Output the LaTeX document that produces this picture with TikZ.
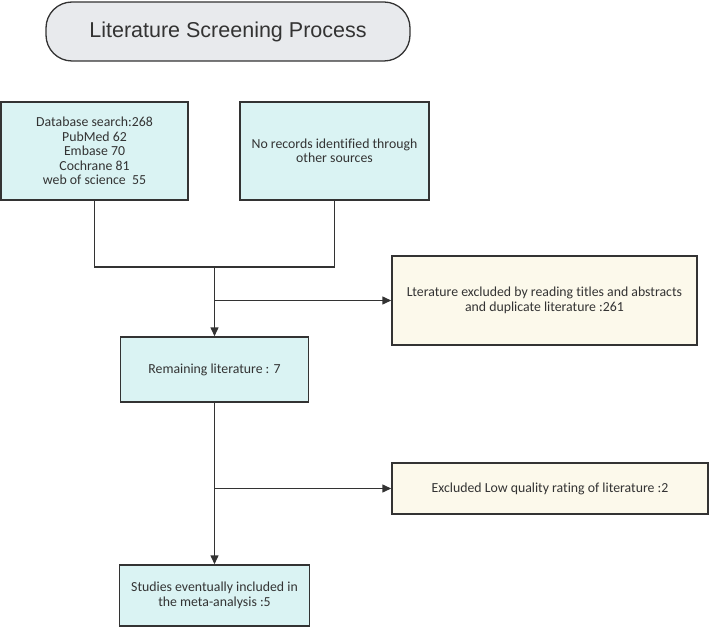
\documentclass[tikz,border=0pt]{standalone}
\usepackage{fontspec}
\setmainfont{Carlito}[Ligatures=NoCommon]
\newfontfamily\titlefont{Liberation Sans}
\usetikzlibrary{arrows.meta, positioning, calc}
\definecolor{linegray}{RGB}{51,51,51}
\definecolor{boxcyan}{RGB}{218,243,243}
\definecolor{boxcream}{RGB}{252,249,235}
\definecolor{titlegray}{RGB}{232,234,237}

\begin{document}
\begin{tikzpicture}[x=1pt, y=-1pt,
    box/.style={rectangle, draw=linegray, line width=1.5pt, fill=#1, text=linegray,
                align=center, inner sep=2pt, font=\fontsize{13.8}{14.4}\selectfont},
    arr/.style={line width=1.5pt, draw=linegray, -{Triangle[length=9pt, width=8pt]}},
    link/.style={line width=1.5pt, draw=linegray}
]
    \useasboundingbox (0,0) rectangle (709,628);

    \node[rectangle, rounded corners=26pt, draw=linegray, line width=1.3pt, fill=titlegray,
          minimum width=364pt, minimum height=59pt, text=linegray,
          font=\titlefont\fontsize{21.5}{24}\selectfont] (title) at (228, 31.5) {Literature Screening Process};

    % Sources
    \node[box=boxcyan, minimum width=187pt, minimum height=98pt] (dbsearch) at (94.5, 151)
        {Database search:268\\PubMed 62\\Embase 70\\Cochrane 81\\web of science~~55};
    \node[box=boxcyan, minimum width=189pt, minimum height=98pt] (other) at (334.5, 151)
        {No records identified through\\other sources};

    % Screening
    \node[box=boxcream, minimum width=305pt, minimum height=89pt] (exclread) at (544.5, 300.5)
        {Lterature excluded by reading titles and abstracts\\and duplicate literature :261};
    \node[box=boxcyan, minimum width=188pt, minimum height=65pt] (remaining) at (214.5, 369.5)
        {Remaining literature : 7};
    \node[box=boxcream, minimum width=316pt, minimum height=51pt] (exclquality) at (550, 488.5)
        {Excluded Low quality rating of literature :2};
    \node[box=boxcyan, minimum width=190pt, minimum height=61pt] (included) at (214.5, 595.5)
        {Studies eventually included in\\the meta-analysis :5};

    % Connectors
    \coordinate (merge) at (214.5, 267);
    \draw[link] (dbsearch.south) |- (merge) -| (other.south);
    \draw[arr] (merge) -- (remaining.north);
    \draw[arr] (merge |- exclread.west) -- (exclread.west);
    \draw[arr] (remaining.south) -- (included.north);
    \draw[arr] (remaining.south |- exclquality.west) -- (exclquality.west);
\end{tikzpicture}
\end{document}
